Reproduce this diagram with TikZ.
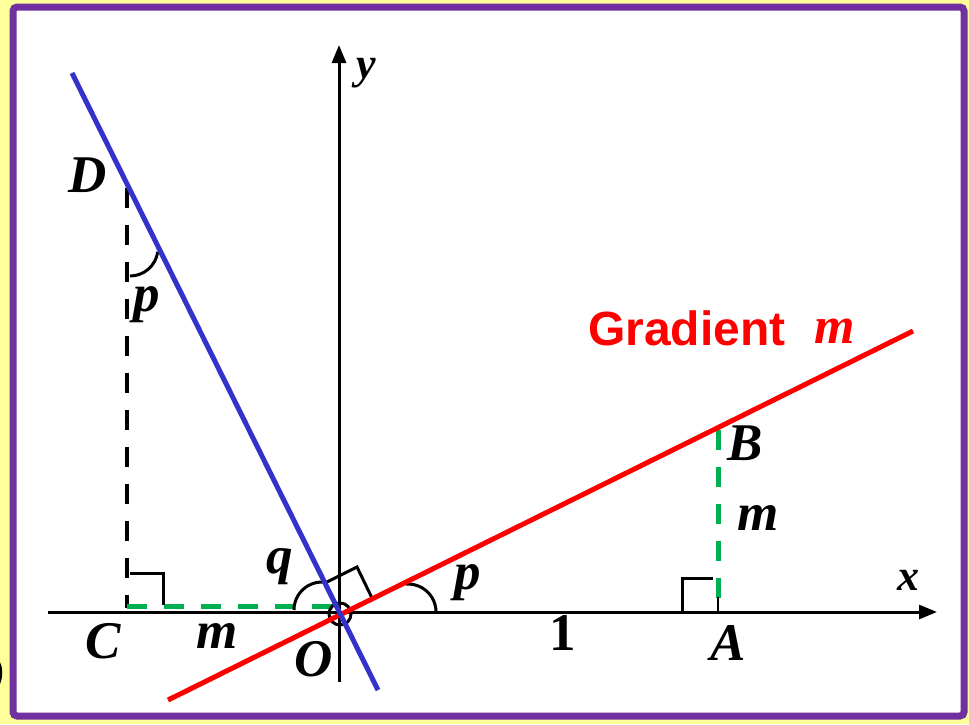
\documentclass[tikz,border=0pt]{standalone}
\usepackage{fontspec}
\setmainfont{Liberation Serif}
\newfontfamily\gradfont{Liberation Sans}
\usetikzlibrary{arrows.meta}
\definecolor{bgyellow}{HTML}{FFFF99}
\definecolor{framepurple}{HTML}{7030A0}
\definecolor{lineblue}{HTML}{3333CC}
\definecolor{dgreen}{HTML}{00B050}
\begin{document}
\begin{tikzpicture}[x=1pt,y=-1pt,
  lbl/.style={font=\fontsize{53}{53}\selectfont\bfseries\itshape, inner sep=0pt, anchor=base},
  axlbl/.style={font=\fontsize{44}{44}\selectfont\bfseries\itshape, inner sep=0pt, anchor=base},
  axisline/.style={line width=3pt, -{Triangle[length=18pt,width=14pt]}},
  mainline/.style={line width=5pt},
  blackdash/.style={line width=4pt, dash pattern=on 20pt off 17pt},
  greendash/.style={dgreen, line width=5pt, dash pattern=on 20pt off 17pt},
  rmark/.style={line width=3pt},
  angarc/.style={line width=3pt}]
\useasboundingbox (0,0) rectangle (969,724);
\fill[bgyellow] (0,0) rectangle (969,724);
\draw[framepurple, line width=7pt, fill=white, rounded corners=4pt] (13,7) rectangle (964,716);
% cropped glyph at left edge
\fill[black] (0,662) .. controls (3,668) and (3,677) .. (0,684) -- cycle;
% points
\coordinate (O) at (339,612);
\coordinate (Xs) at (48,612);
\coordinate (Xe) at (937,612);
\coordinate (Ys) at (339,682);
\coordinate (Ye) at (339,45);
\coordinate (Rs) at (168,700);
\coordinate (Re) at (913,331);
\coordinate (Bs) at (72,73);
\coordinate (Be) at (378,690);
\coordinate (D) at (127,188);
\coordinate (Cb) at (127,608);
\coordinate (Cg) at (127,606);
\coordinate (Og) at (336,606);
\coordinate (B) at (718,430);
\coordinate (Ag) at (718,600);
\coordinate (At) at (718,597);
\coordinate (A) at (718,612);
% axes
\draw[axisline] (Xs) -- (Xe);
\draw[axisline] (Ys) -- (Ye);
% dashed lines
\draw[blackdash] (D) -- (Cb);
\draw[greendash] (Cg) -- (Og);
\draw[greendash] (B) -- (Ag);
\draw[line width=2pt] (At) -- (A);
% right-angle marks
\draw[rmark] (130,573) -- (163,573) -- (163,605);
\draw[rmark] (682,612) -- (682,578) -- (713,578);
\draw[rmark] (325,583) -- (357,567) -- (372,598);
% angle arcs
\draw[angarc] (294,610) arc[start angle=180, end angle=275, radius=28];
\draw[angarc] (436,612) arc[start angle=0, end angle=-95, radius=28];
\draw[angarc] (130,276) arc[start angle=90, end angle=8, radius=28];
\draw[line width=3pt] (340,614) circle[radius=11];
% lines
\draw[mainline, red] (Rs) -- (Re);
\draw[mainline, lineblue] (Bs) -- (Be);
% labels
\node[lbl] (lD) at (88,192) {D};
\node[lbl] (lp1) at (147,311) {p};
\node[lbl] (lq) at (280,573) {q};
\node[lbl] (lp2) at (468,589) {p};
\node[lbl, font=\fontsize{53}{53}\selectfont\bfseries] (l1) at (563,650) {1};
\node[lbl] (lC) at (103,658) {C};
\node[lbl] (lm1) at (217,648) {m};
\node[lbl] (lO) at (314,676) {O};
\node[lbl] (lA) at (728,660) {A};
\node[lbl] (lB) at (745,460) {B};
\node[lbl] (lm2) at (758,530) {m};
\node[axlbl] (lx) at (908,590) {x};
\node[axlbl] (ly) at (366,78) {y};
\node[font=\gradfont\bfseries\fontsize{48}{48}\selectfont, text=red, anchor=base west, inner sep=0pt] (grad) at (588,345) {Gradient};
\node[lbl, text=red, font=\fontsize{52}{52}\selectfont\bfseries\itshape] (gm) at (835,343) {m};
\end{tikzpicture}
\end{document}
